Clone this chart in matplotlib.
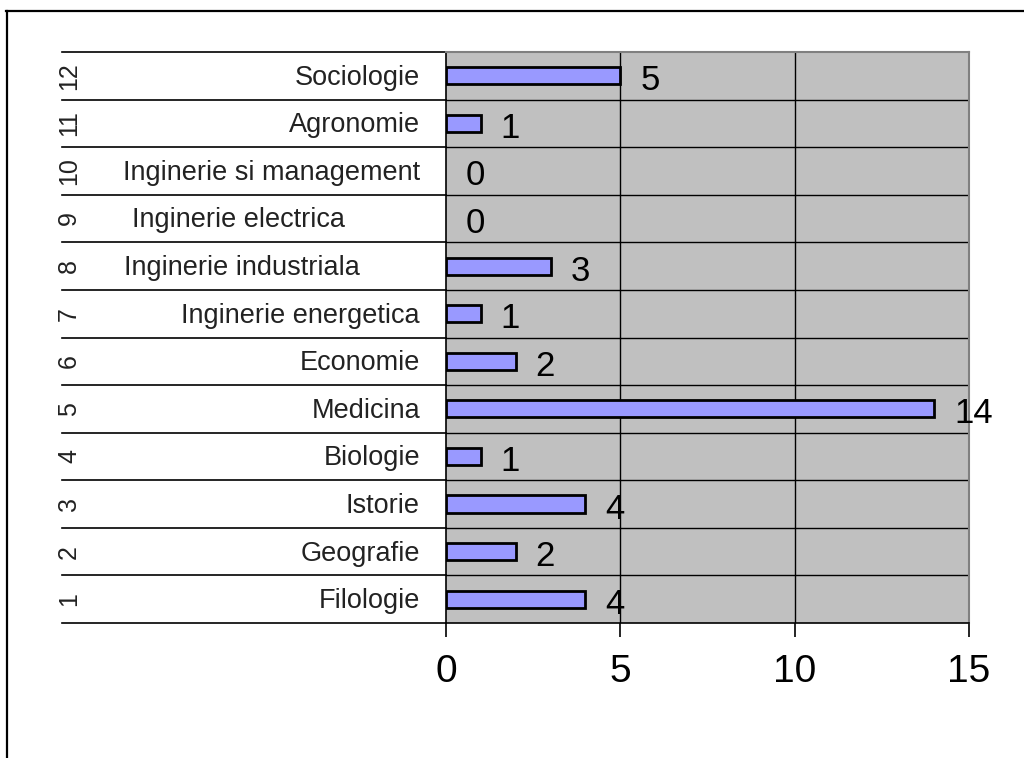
import matplotlib.pyplot as plt
from matplotlib.lines import Line2D
from matplotlib.transforms import blended_transform_factory

# data, bottom row first
numbers = ['1', '2', '3', '4', '5', '6', '7', '8', '9', '10', '11', '12']
faculties = ['Filologie', 'Geografie', 'Istorie', 'Biologie', 'Medicina', 'Economie',
             'Inginerie energetica', 'Inginerie industriala        ',
             'Inginerie electrica          ', 'Inginerie si management', 'Agronomie',
             'Sociologie']
counts = [4, 2, 4, 1, 14, 2, 1, 3, 0, 0, 1, 5]
xticks = [0, 5, 10, 15]

W, H = 1024, 758


def main():
    plt.rcParams['font.family'] = ['Liberation Sans', 'DejaVu Sans']
    fig = plt.figure(figsize=(W / 100, H / 100), dpi=100)

    # outer frame (only top and left visible)
    fig.add_artist(Line2D([6 / W, 1], [1 - 11 / H, 1 - 11 / H], color='black', linewidth=1.6))
    fig.add_artist(Line2D([7 / W, 7 / W], [0, 1 - 11 / H], color='black', linewidth=1.6))

    left, right, top, bottom = 446, 969, 52, 623
    ax = fig.add_axes([left / W, (H - bottom) / H, (right - left) / W, (bottom - top) / H])
    ax.set_facecolor('#c0c0c0')

    ypos = list(range(1, len(counts) + 1))
    edges = ['black' if v > 0 else 'none' for v in counts]
    ax.barh(ypos, counts, height=0.36, color='#9999ff', edgecolor=edges, linewidth=2, zorder=3)
    ax.set_xlim(0, 15)
    ax.set_ylim(0.5, len(counts) + 0.5)

    # grid
    for x in xticks[1:-1]:
        ax.axvline(x, color='black', linewidth=1, zorder=1)
    trans = blended_transform_factory(fig.transFigure, ax.transData)
    for k in range(len(counts) + 1):
        yb = k + 0.5
        ax.plot([62 / W, left / W], [yb, yb], color='black', linewidth=1.2,
                transform=trans, clip_on=False)
        if 0 < k < len(counts):
            ax.axhline(yb, color='black', linewidth=1, zorder=1)

    # category labels
    for y, num, name in zip(ypos, numbers, faculties):
        ax.text(420 / W, y - 0.04, name, transform=trans, ha='right', va='center',
                fontsize=19.5, color='#222222')
        ax.text(69 / W, y, num, transform=trans, ha='center', va='center',
                rotation=90, fontsize=18, color='#222222')

    # value labels
    for y, v in zip(ypos, counts):
        ax.annotate(str(v), (v, y), xytext=(20, -5), textcoords='offset pixels',
                    ha='left', va='center', fontsize=25, zorder=4)

    ax.set_xticks(xticks)
    ax.set_yticks([])
    ax.tick_params(axis='x', direction='out', length=10, width=1.2, pad=12, labelsize=28)
    for side in ['top', 'right']:
        ax.spines[side].set_color('#808080')
        ax.spines[side].set_linewidth(1.5)
    ax.spines['left'].set_linewidth(1.2)
    ax.spines['bottom'].set_linewidth(1.2)

    plt.savefig('out.png', dpi=100)
    plt.close()


if __name__ == '__main__':
    main()
